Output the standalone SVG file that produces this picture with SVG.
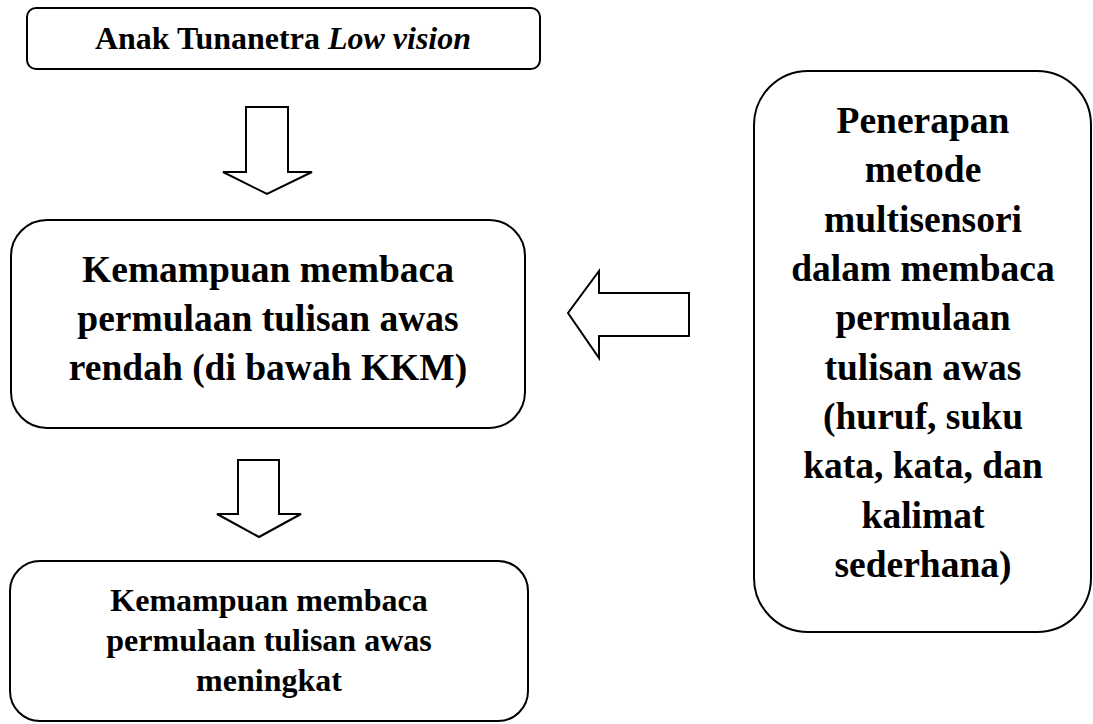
<svg xmlns="http://www.w3.org/2000/svg" width="1093" height="724" viewBox="0 0 1093 724">
<style>
.box{fill:#fff;stroke:#000;stroke-width:2}
.arr{fill:#fff;stroke:#000;stroke-width:2;stroke-linejoin:miter}
text{font-family:"Liberation Serif","Times New Roman",serif;font-weight:bold;fill:#000;text-anchor:middle}
.t32{font-size:32px}
.t37{font-size:37.5px}
</style>
<rect width="1093" height="724" fill="#fff"/>
<g id="node-anak">
<rect class="box" x="27" y="8" width="513" height="61" rx="9"/>
<text class="t32" x="283" y="48.5">Anak Tunanetra <tspan font-style="italic">Low vision</tspan></text>
</g>
<g id="node-rendah">
<rect class="box" x="11" y="220" width="514" height="208" rx="36"/>
<text class="t37" x="268" y="282">Kemampuan membaca</text>
<text class="t37" x="268" y="331">permulaan tulisan awas</text>
<text class="t37" x="268" y="380">rendah (di bawah KKM)</text>
</g>
<g id="node-meningkat">
<rect class="box" x="10" y="561" width="518" height="160" rx="30"/>
<text class="t32" x="269" y="611">Kemampuan membaca</text>
<text class="t32" x="269" y="651">permulaan tulisan awas</text>
<text class="t32" x="269" y="691">meningkat</text>
</g>
<g id="node-penerapan">
<rect class="box" x="754" y="71" width="337" height="561" rx="54"/>
<text class="t37" x="923" y="133">Penerapan</text>
<text class="t37" x="923" y="182.3">metode</text>
<text class="t37" x="923" y="231.7">multisensori</text>
<text class="t37" x="923" y="281">dalam membaca</text>
<text class="t37" x="923" y="330.3">permulaan</text>
<text class="t37" x="923" y="379.7">tulisan awas</text>
<text class="t37" x="923" y="429">(huruf, suku</text>
<text class="t37" x="923" y="478.3">kata, kata, dan</text>
<text class="t37" x="923" y="527.7">kalimat</text>
<text class="t37" x="923" y="577">sederhana)</text>
</g>
<g id="connectors">
<path class="arr" d="M246,107 H288 V172 H312 L267,194 L223,172 H246 Z"/>
<path class="arr" d="M238,460 H279 V514 H301 L259,537 L217,514 H238 Z"/>
<path class="arr" d="M689,293 V336 H599 V358 L568,313 L599,271 V293 Z"/>
</g>
</svg>
